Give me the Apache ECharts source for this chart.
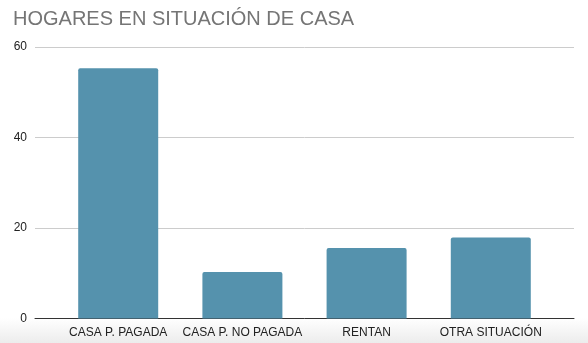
<!DOCTYPE html>
<html>
<head>
<meta charset="utf-8">
<script src="https://cdn.jsdelivr.net/npm/echarts@6/dist/echarts.min.js"></script>
<style>
  html, body { margin: 0; padding: 0; background: #fff; }
  #chart { width: 588px; height: 343px; }
</style>
</head>
<body>
<div id="chart"></div>
<script>
const title = 'HOGARES EN SITUACIÓN DE CASA';
const categories = ['CASA P. PAGADA', 'CASA P. NO PAGADA', 'RENTAN', 'OTRA SITUACIÓN'];
const values = [55.3, 10.3, 15.6, 17.9];
const yTicks = [0, 20, 40, 60];

const chart = echarts.init(document.getElementById('chart'), null, { renderer: 'canvas' });

// Categories sit on a numeric axis so the gridlines can run past the outer bars.
const barData = values.map((v, i) => [i, v]);

chart.setOption({
  animation: false,
  backgroundColor: '#ffffff',
  textStyle: { fontFamily: 'Liberation Sans, Arial, sans-serif' },
  graphic: [{
    type: 'rect',
    left: 0, top: 318, z: -10, silent: true,
    shape: { width: 588, height: 25 },
    style: {
      fill: new echarts.graphic.LinearGradient(0, 0, 0, 1, [
        { offset: 0, color: '#ffffff' },
        { offset: 1, color: '#ececec' }
      ])
    }
  }],
  title: {
    text: title,
    left: 8, top: 4,
    textStyle: {
      color: '#757575', fontSize: 20, fontWeight: 'normal',
      fontFamily: 'Liberation Sans, Arial, sans-serif'
    }
  },
  grid: { left: 35, right: 14, top: 47, bottom: 24.5, containLabel: false },
  xAxis: {
    type: 'value',
    min: -0.67, max: 3.67,
    axisLine: { show: true, onZero: false, lineStyle: { color: '#333333', width: 1 } },
    axisTick: { show: false },
    splitLine: { show: false },
    axisLabel: {
      customValues: categories.map((c, i) => i),
      formatter: v => categories[Math.round(v)] || '',
      color: '#222222', fontSize: 12, margin: 8,
      fontFamily: 'Liberation Sans, Arial, sans-serif'
    }
  },
  yAxis: {
    type: 'value',
    min: yTicks[0], max: yTicks[yTicks.length - 1], interval: 20,
    axisLine: { show: false },
    axisTick: { show: false },
    axisLabel: {
      color: '#222222', fontSize: 12, margin: 8,
      fontFamily: 'Liberation Sans, Arial, sans-serif'
    },
    splitLine: { lineStyle: { color: '#cccccc', width: 1 } }
  },
  series: [{
    type: 'bar',
    data: barData,
    barWidth: 80,
    itemStyle: { color: '#5592ad', borderRadius: [2, 2, 0, 0] }
  }]
});
</script>
</body>
</html>
